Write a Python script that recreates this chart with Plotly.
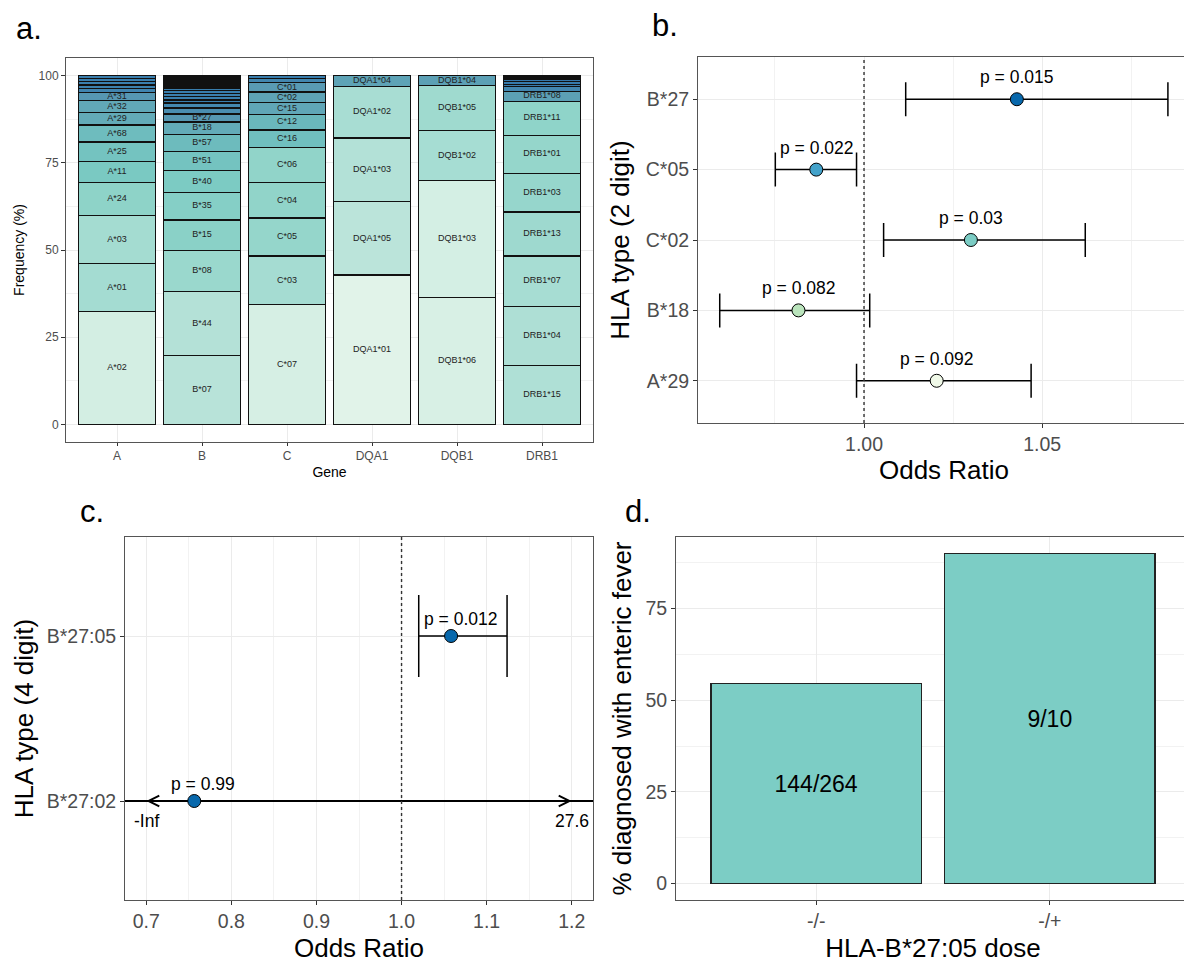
import numpy as np
import plotly.graph_objects as go

# page body has an 8px margin; figure is sized to fill the remaining window
OFF = 8
W, H = 1192 - OFF, 963 - OFF
FONT = "Liberation Sans, Arial, Helvetica, sans-serif"

# ---------------- Panel a data: allele frequencies (%) per gene ----------------
genes = ["A", "B", "C", "DQA1", "DQB1", "DRB1"]

A_alleles = ["A*02", "A*01", "A*03", "A*24", "A*11", "A*25", "A*68", "A*29", "A*32", "A*31",
             "A*30", "A*26", "A*33", "A*23", "A*74"]
A_freq = [32.4, 13.8, 13.7, 9.4, 6.1, 5.5, 4.9, 3.6, 3.4, 2.3, 1.2, 1.0, 0.9, 0.9, 0.9]

B_alleles = ["B*07", "B*44", "B*08", "B*15", "B*35", "B*40", "B*51", "B*57", "B*18", "B*27",
             "B*14", "B*13", "B*37", "B*39", "B*49", "B*52", "B*55",
             "B*38", "B*41", "B*45", "B*47", "B*50", "B*53", "B*56", "B*58", "B*73", "B*78", "B*81", "B*82"]
B_freq = [19.7, 18.5, 11.7, 8.7, 7.9, 6.3, 5.5, 4.8, 3.6, 2.3,
          1.7, 1.4, 0.9, 0.9, 0.9, 0.8, 0.8,
          0.3, 0.3, 0.3, 0.3, 0.3, 0.3, 0.3, 0.3, 0.3, 0.3, 0.3, 0.3]

C_alleles = ["C*07", "C*03", "C*05", "C*04", "C*06", "C*16", "C*12", "C*15", "C*02", "C*01",
             "C*17", "C*08"]
C_freq = [34.3, 14.0, 10.9, 10.1, 10.0, 5.1, 4.5, 3.3, 3.1, 2.6, 1.3, 0.8]

DQA1_alleles = ["DQA1*01", "DQA1*05", "DQA1*03", "DQA1*02", "DQA1*04"]
DQA1_freq = [42.8, 21.1, 18.2, 14.8, 3.1]

DQB1_alleles = ["DQB1*06", "DQB1*03", "DQB1*02", "DQB1*05", "DQB1*04"]
DQB1_freq = [36.4, 33.5, 14.4, 12.8, 2.9]

DRB1_alleles = ["DRB1*15", "DRB1*04", "DRB1*07", "DRB1*13", "DRB1*03", "DRB1*01", "DRB1*11", "DRB1*08",
                "DRB1*12", "DRB1*14", "DRB1*16", "DRB1*10", "DRB1*09", "DRB1*02", "DRB1*05", "DRB1*06"]
DRB1_freq = [17.0, 16.8, 14.5, 12.6, 11.1, 10.9, 9.7, 2.9,
             1.3, 0.7, 0.7, 0.6, 0.3, 0.3, 0.3, 0.3]

gene_alleles = [A_alleles, B_alleles, C_alleles, DQA1_alleles, DQB1_alleles, DRB1_alleles]
gene_freqs = [A_freq, B_freq, C_freq, DQA1_freq, DQB1_freq, DRB1_freq]

# ---------------- Panel b data: 2-digit HLA odds ratios ----------------
b_types = ["A*29", "B*18", "C*02", "C*05", "B*27"]
b_or = [1.0204, 0.9816, 1.0300, 0.9866, 1.0429]
b_lo = [0.9979, 0.9595, 1.0055, 0.9751, 1.0117]
b_hi = [1.0469, 1.0016, 1.0621, 0.9979, 1.0853]
b_p = [0.092, 0.082, 0.03, 0.022, 0.015]

# ---------------- Panel c data: 4-digit HLA odds ratios ----------------
c_types = ["B*27:02", "B*27:05"]
c_or = [0.7564, 1.0582]
c_lo = [float("-inf"), 1.0202]
c_hi = [27.6, 1.124]
c_p = [0.99, 0.012]
c_xlim = [0.7, 1.2]

# ---------------- Panel d data ----------------
d_dose = ["-/-", "-/+"]
d_fever = [144, 9]
d_total = [264, 10]

# ---------------- styles ----------------
freq_scale = [[0.0, "#2a6aa2"], [0.02, "#3a7fae"], [0.05, "#5596b2"], [0.08, "#63abb8"],
              [0.11, "#6ebdbe"], [0.14, "#7ccbc3"], [0.21, "#8ed3c8"], [0.31, "#a5dcd2"],
              [0.44, "#b8e3d9"], [0.72, "#d3eee3"], [1.0, "#e4f4ea"]]
b_colors = ["#f0f9e8", "#bae4bc", "#7bccc4", "#43a2ca", "#0868ac"]
c_colors = ["#0868ac", "#0868ac"]
d_color = "#7ccdc5"

TICK, TITLE, PLAB = 19.5, 26, 17.5


def xd(l, r):
    return [(l - OFF) / W, (r - OFF) / W]


def yd(t, b):
    return [1 - (b - OFF) / H, 1 - (t - OFF) / H]


def axstyle(tick_size, title_size, **kw):
    d = dict(showline=True, mirror=True, linecolor="#555555", linewidth=1, automargin=False,
             ticks="outside", ticklen=4, tickcolor="#333333", tickwidth=1,
             showgrid=True, gridcolor="#ebebeb", gridwidth=1, zeroline=False,
             tickfont=dict(size=tick_size, color="#4d4d4d", family=FONT),
             title_font=dict(size=title_size, color="black", family=FONT))
    d.update(kw)
    return d


fig = go.Figure()

# ---------------- Panel a ----------------
lab_x, lab_y, lab_t = [], [], []
for g, alle, fr in zip(genes, gene_alleles, gene_freqs):
    fr = np.array(fr)
    tops = np.cumsum(fr)
    mids = tops - fr / 2
    for name, f in zip(alle, fr):
        fig.add_trace(go.Bar(x=[g], y=[f], width=0.9, name=name, showlegend=False,
                             marker=dict(color=[f], colorscale=freq_scale, cmin=0, cmax=45,
                                         line=dict(color="#111111", width=1.3)),
                             hoverinfo="x+y+name", xaxis="x", yaxis="y"))
    for name, f, m in zip(alle, fr, mids):
        if f >= 2:
            lab_x.append(g)
            lab_y.append(m)
            lab_t.append(name)
fig.add_trace(go.Scatter(x=lab_x, y=lab_y, text=lab_t, mode="text", showlegend=False,
                         textfont=dict(size=9, color="#222222", family=FONT),
                         hoverinfo="skip", xaxis="x", yaxis="y"))

# ---------------- Panel b ----------------
b_or_a = np.array(b_or)
fig.add_trace(go.Scatter(
    x=b_or, y=b_types, mode="markers", showlegend=False, xaxis="x2", yaxis="y2",
    error_x=dict(type="data", symmetric=False, array=list(np.array(b_hi) - b_or_a),
                 arrayminus=list(b_or_a - np.array(b_lo)), width=17, thickness=1.5, color="black"),
    marker=dict(color=b_colors, size=13, line=dict(color="black", width=1))))

# ---------------- Panel c ----------------
c_range = [c_xlim[0] - 0.05 * (c_xlim[1] - c_xlim[0]), c_xlim[1] + 0.05 * (c_xlim[1] - c_xlim[0])]
for i, t in enumerate(c_types):
    lo, hi, o = c_lo[i], c_hi[i], c_or[i]
    if np.isfinite(lo) and hi <= c_xlim[1]:
        fig.add_trace(go.Scatter(
            x=[o], y=[t], mode="markers", showlegend=False, xaxis="x3", yaxis="y3",
            error_x=dict(type="data", symmetric=False, array=[hi - o], arrayminus=[o - lo],
                         width=41, thickness=1.5, color="black"),
            marker=dict(color=c_colors[i], size=13, line=dict(color="black", width=1))))
    else:
        fig.add_trace(go.Scatter(x=[max(lo, c_range[0]), min(hi, c_range[1])], y=[t, t],
                                 mode="lines", line=dict(color="black", width=1.8),
                                 showlegend=False, hoverinfo="skip", xaxis="x3", yaxis="y3"))
        fig.add_trace(go.Scatter(x=[o], y=[t], mode="markers", showlegend=False, xaxis="x3", yaxis="y3",
                                 marker=dict(color=c_colors[i], size=13, line=dict(color="black", width=1))))
        for xa, dx, lbl in [(c_xlim[0], 25, "-Inf" if not np.isfinite(lo) else f"{lo:g}"),
                            (c_xlim[1], -25, f"{hi:g}")]:
            fig.add_annotation(x=xa, y=t, xref="x3", yref="y3", ax=dx, ay=0, showarrow=True,
                               arrowhead=5, arrowsize=1.4, arrowwidth=1.5, arrowcolor="black", text="")
            fig.add_annotation(x=xa, y=t, xref="x3", yref="y3", showarrow=False, text=lbl, yshift=-20,
                               font=dict(size=PLAB, color="black", family=FONT))

# ---------------- Panel d ----------------
d_pct = [100 * a / b for a, b in zip(d_fever, d_total)]
fig.add_trace(go.Bar(x=d_dose, y=d_pct, width=0.9, showlegend=False, xaxis="x4", yaxis="y4",
                     marker=dict(color=d_color, line=dict(color="#222222", width=1.3)),
                     text=[f"{a}/{b}" for a, b in zip(d_fever, d_total)], textposition="inside",
                     insidetextanchor="middle", textangle=0,
                     textfont=dict(size=23, color="black", family=FONT)))

# ---------------- p-value labels ----------------
for o, t, p in zip(b_or, b_types, b_p):
    fig.add_annotation(x=o, y=t, xref="x2", yref="y2", text=f"p = {p:g}", showarrow=False,
                       yshift=22, font=dict(size=PLAB, color="black", family=FONT))
for o, t, p in zip(c_or, c_types, c_p):
    fig.add_annotation(x=o, y=t, xref="x3", yref="y3", text=f"p = {p:g}", showarrow=False,
                       yshift=17, xshift=9, font=dict(size=PLAB, color="black", family=FONT))

# ---------------- panel letters ----------------
for txt, px, py in [("a.", 14, 29), ("b.", 650, 26), ("c.", 78, 511), ("d.", 623, 511)]:
    fig.add_annotation(x=(px - OFF) / W, y=1 - (py - OFF) / H, xref="paper", yref="paper", text=txt,
                       showarrow=False, xanchor="left", yanchor="middle",
                       font=dict(size=31, color="black", family=FONT))

# ---------------- reference lines ----------------
for xr, yr in [("x2", "y2 domain"), ("x3", "y3 domain")]:
    fig.add_shape(type="line", x0=1, x1=1, y0=0, y1=1, xref=xr, yref=yr, layer="above",
                  line=dict(color="#333333", width=1.4, dash="dot"))

fig.update_layout(
    width=W, height=H, barmode="stack", plot_bgcolor="white", paper_bgcolor="white",
    margin=dict(l=0, r=0, t=0, b=0), font=dict(family=FONT),
    xaxis=axstyle(12, 14, domain=xd(66, 593), type="category", categoryorder="array", ticklen=3,
                  categoryarray=genes, range=[-0.6, 5.6], title=dict(text="Gene", standoff=4), anchor="y"),
    yaxis=axstyle(12, 14, domain=yd(58, 442), range=[-5, 105], tickvals=[0, 25, 50, 75, 100],
                  minor=dict(dtick=12.5, showgrid=True, gridcolor="#f2f2f2", gridwidth=0.6, ticks=""),
                  title=dict(text="Frequency (%)", standoff=10), anchor="x"),
    xaxis2=axstyle(TICK, TITLE, domain=xd(698, 1190), range=[0.9534, 1.0915], dtick=0.05, tick0=0,
                   tickformat=".2f",
                   minor=dict(dtick=0.025, showgrid=True, gridcolor="#f2f2f2", gridwidth=0.6, ticks=""),
                   title=dict(text="Odds Ratio", standoff=3), anchor="y2"),
    yaxis2=axstyle(TICK, TITLE, domain=yd(57, 423), type="category", categoryorder="array",
                   categoryarray=b_types, range=[-0.6, 4.6],
                   title=dict(text="HLA type (2 digit)", standoff=8), anchor="x2"),
    xaxis3=axstyle(TICK, TITLE, domain=xd(125, 593), range=c_range, dtick=0.1, tick0=0, tickformat=".1f",
                   minor=dict(dtick=0.05, showgrid=True, gridcolor="#f2f2f2", gridwidth=0.6, ticks=""),
                   title=dict(text="Odds Ratio", standoff=10), anchor="y3"),
    yaxis3=axstyle(TICK, TITLE, domain=yd(537, 900), type="category", categoryorder="array",
                   categoryarray=c_types, range=[-0.6, 1.6],
                   title=dict(text="HLA type (4 digit)", standoff=5), anchor="x3"),
    xaxis4=axstyle(TICK, TITLE, domain=xd(676, 1190), type="category", categoryorder="array",
                   categoryarray=d_dose, range=[-0.6, 1.6],
                   title=dict(text="HLA-B*27:05 dose", standoff=10), anchor="y4"),
    yaxis4=axstyle(TICK, TITLE, domain=yd(537, 900), range=[-4.5, 94.5], tickvals=[0, 25, 50, 75],
                   minor=dict(dtick=12.5, showgrid=True, gridcolor="#f2f2f2", gridwidth=0.6, ticks=""),
                   title=dict(text="% diagnosed with enteric fever", standoff=6), anchor="x4"),
)

fig.write_html("out.html")
